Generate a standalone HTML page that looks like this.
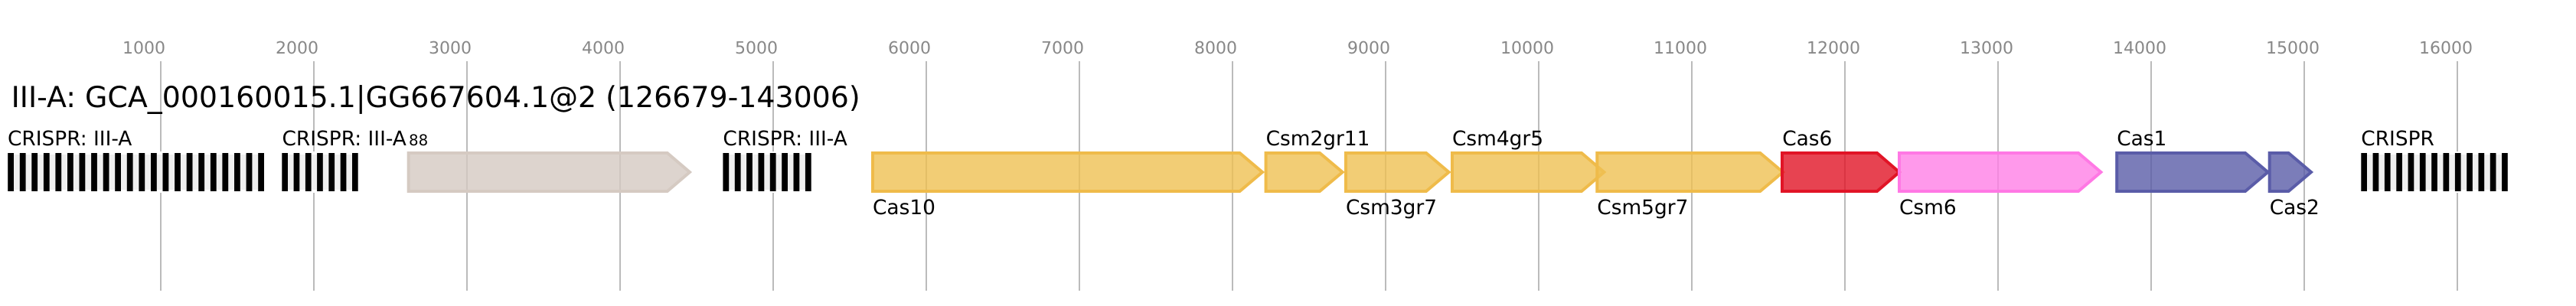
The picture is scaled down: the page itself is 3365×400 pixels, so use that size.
<!DOCTYPE html>
<html><head><meta charset="utf-8"><style>
html,body{margin:0;padding:0;background:#fff;width:3365px;height:400px;overflow:hidden}
svg{display:block}
text{font-family:"DejaVu Sans",sans-serif;text-rendering:geometricPrecision}
.t{font-size:22px;fill:#888}
.l{font-size:26.4px;fill:#000}
.g{stroke:#bbb;stroke-width:2}
.y{fill:#efc052;fill-opacity:.8;stroke:#efbb4a;stroke-width:4}
</style></head><body>
<svg xmlns="http://www.w3.org/2000/svg" width="3365" height="400" viewBox="0 0 3365 400">
<rect width="3365" height="400" fill="#fff"/>
<g class="g">
<line x1="210" y1="80" x2="210" y2="380"/><line x1="410" y1="80" x2="410" y2="380"/><line x1="610" y1="80" x2="610" y2="380"/><line x1="810" y1="80" x2="810" y2="380"/><line x1="1010" y1="80" x2="1010" y2="380"/><line x1="1210" y1="80" x2="1210" y2="380"/><line x1="1410" y1="80" x2="1410" y2="380"/><line x1="1610" y1="80" x2="1610" y2="380"/><line x1="1810" y1="80" x2="1810" y2="380"/><line x1="2010" y1="80" x2="2010" y2="380"/><line x1="2210" y1="80" x2="2210" y2="380"/><line x1="2410" y1="80" x2="2410" y2="380"/><line x1="2610" y1="80" x2="2610" y2="380"/><line x1="2810" y1="80" x2="2810" y2="380"/><line x1="3010" y1="80" x2="3010" y2="380"/><line x1="3210" y1="80" x2="3210" y2="380"/>
</g>
<g class="t">
<text x="160" y="70">1000</text><text x="360" y="70">2000</text><text x="560" y="70">3000</text><text x="760" y="70">4000</text><text x="960" y="70">5000</text><text x="1160" y="70">6000</text><text x="1360" y="70">7000</text><text x="1560" y="70">8000</text><text x="1760" y="70">9000</text><text x="1960" y="70">10000</text><text x="2160" y="70">11000</text><text x="2360" y="70">12000</text><text x="2560" y="70">13000</text><text x="2760" y="70">14000</text><text x="2960" y="70">15000</text><text x="3160" y="70">16000</text>
</g>
<text x="14.6" y="140" font-size="37.9" fill="#000">III-A: GCA_000160015.1|GG667604.1@2 (126679-143006)</text>

<!-- CRISPR arrays -->
<rect x="10" y="200" width="335" height="50" fill="#efefef" stroke="#fff" stroke-width="4"/>
<rect x="368.3" y="200" width="99.4" height="50" fill="#efefef" stroke="#fff" stroke-width="4"/>
<rect x="944.4" y="200" width="115.3" height="50" fill="#efefef" stroke="#fff" stroke-width="4"/>
<rect x="3084.3" y="200" width="191.5" height="50" fill="#efefef" stroke="#fff" stroke-width="4"/>
<g fill="#000">
<rect x="10.2" y="200" width="7.8" height="50"/><rect x="25.8" y="200" width="7.8" height="50"/><rect x="41.3" y="200" width="7.8" height="50"/><rect x="56.9" y="200" width="7.8" height="50"/><rect x="72.4" y="200" width="7.8" height="50"/><rect x="88" y="200" width="7.8" height="50"/><rect x="103.5" y="200" width="7.8" height="50"/><rect x="119.1" y="200" width="7.8" height="50"/><rect x="134.7" y="200" width="7.8" height="50"/><rect x="150.2" y="200" width="7.8" height="50"/><rect x="165.8" y="200" width="7.8" height="50"/><rect x="181.4" y="200" width="7.8" height="50"/><rect x="197" y="200" width="7.8" height="50"/><rect x="212.5" y="200" width="7.8" height="50"/><rect x="228.1" y="200" width="7.8" height="50"/><rect x="243.7" y="200" width="7.8" height="50"/><rect x="259.3" y="200" width="7.8" height="50"/><rect x="274.9" y="200" width="7.8" height="50"/><rect x="290.4" y="200" width="7.8" height="50"/><rect x="306" y="200" width="7.8" height="50"/><rect x="321.6" y="200" width="7.8" height="50"/><rect x="337.2" y="200" width="7.8" height="50"/>
<rect x="368.3" y="200" width="7.7" height="50"/><rect x="383.6" y="200" width="7.7" height="50"/><rect x="398.9" y="200" width="7.7" height="50"/><rect x="414.1" y="200" width="7.7" height="50"/><rect x="429.4" y="200" width="7.7" height="50"/><rect x="444.7" y="200" width="7.7" height="50"/><rect x="460" y="200" width="7.7" height="50"/>
<rect x="944.4" y="200" width="7.8" height="50"/><rect x="959.8" y="200" width="7.8" height="50"/><rect x="975.1" y="200" width="7.8" height="50"/><rect x="990.5" y="200" width="7.8" height="50"/><rect x="1005.8" y="200" width="7.8" height="50"/><rect x="1021.2" y="200" width="7.8" height="50"/><rect x="1036.5" y="200" width="7.8" height="50"/><rect x="1051.9" y="200" width="7.8" height="50"/>
<rect x="3084.3" y="200" width="7.7" height="50"/><rect x="3099.6" y="200" width="7.7" height="50"/><rect x="3114.9" y="200" width="7.7" height="50"/><rect x="3130.3" y="200" width="7.7" height="50"/><rect x="3145.6" y="200" width="7.7" height="50"/><rect x="3160.9" y="200" width="7.7" height="50"/><rect x="3176.2" y="200" width="7.7" height="50"/><rect x="3191.5" y="200" width="7.7" height="50"/><rect x="3206.9" y="200" width="7.7" height="50"/><rect x="3222.2" y="200" width="7.7" height="50"/><rect x="3237.5" y="200" width="7.7" height="50"/><rect x="3252.8" y="200" width="7.7" height="50"/><rect x="3268.1" y="200" width="7.7" height="50"/>
</g>

<!-- genes -->
<polygon points="533.7,200 871.7,200 901,225 871.7,250 533.7,250" fill="#d4c9c2" fill-opacity=".8" stroke="#d5cac2" stroke-width="4"/>
<polygon class="y" points="1140,200 1619.5,200 1649,225 1619.5,250 1140,250"/>
<polygon class="y" points="1653.6,200 1724,200 1753.7,225 1724,250 1653.6,250"/>
<polygon class="y" points="1758,200 1863,200 1892.6,225 1863,250 1758,250"/>
<polygon class="y" points="1897,200 2066,200 2095.4,225 2066,250 1897,250"/>
<polygon class="y" points="2086.3,200 2299.3,200 2329,225 2299.3,250 2086.3,250"/>
<polygon points="2328,200 2452,200 2481,225 2452,250 2328,250" fill="#e11426" fill-opacity=".8" stroke="#e11426" stroke-width="4"/>
<polygon points="2481,200 2715,200 2744.4,225 2715,250 2481,250" fill="#ff80e6" fill-opacity=".8" stroke="#ff78e4" stroke-width="4"/>
<polygon points="2765.2,200 2933,200 2962.5,225 2933,250 2765.2,250" fill="#5a5ca8" fill-opacity=".8" stroke="#5a5ca8" stroke-width="4"/>
<polygon points="2964.7,200 2989.5,200 3019,225 2989.5,250 2964.7,250" fill="#5a5ca8" fill-opacity=".8" stroke="#5a5ca8" stroke-width="4"/>

<!-- labels -->
<g class="l">
<text x="10" y="190">CRISPR: III-A</text>
<text x="368.5" y="190">CRISPR: III-A</text>
<text x="944.4" y="190">CRISPR: III-A</text>
<text x="3084.3" y="190">CRISPR</text>
<text x="1140" y="280">Cas10</text>
<text x="1653.6" y="190">Csm2gr11</text>
<text x="1758" y="280">Csm3gr7</text>
<text x="1897" y="190">Csm4gr5</text>
<text x="2086.3" y="280">Csm5gr7</text>
<text x="2328.2" y="190">Cas6</text>
<text x="2481" y="280">Csm6</text>
<text x="2765.2" y="190">Cas1</text>
<text x="2964.7" y="280">Cas2</text>
</g>
<text x="534" y="190" font-size="19.8" fill="#000">88</text>
</svg>
</body></html>
